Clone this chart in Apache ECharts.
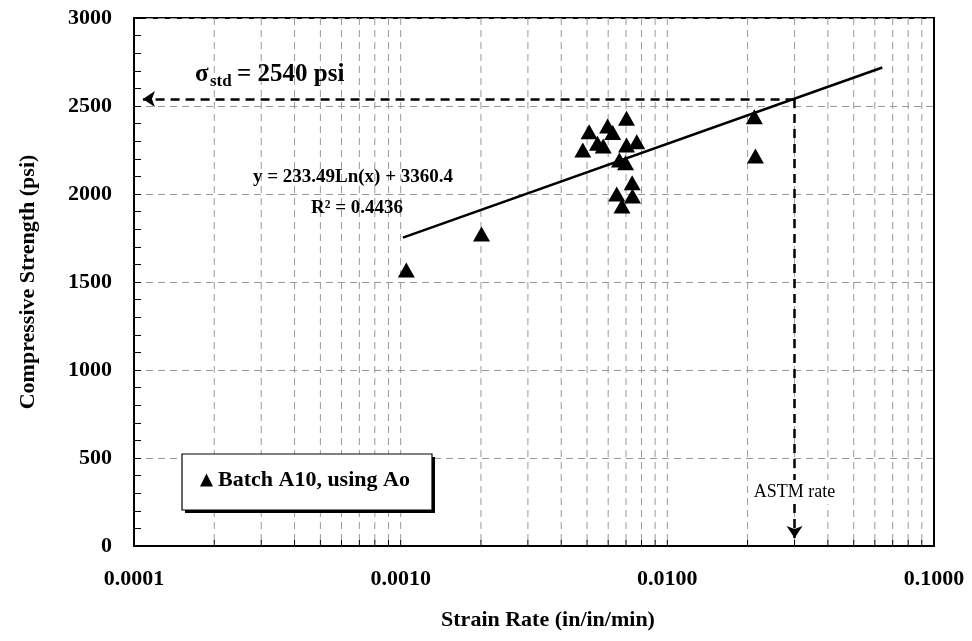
<!DOCTYPE html>
<html>
<head>
<meta charset="utf-8">
<script src="https://cdn.jsdelivr.net/npm/echarts@6/dist/echarts.min.js"></script>
<style>
  html, body { margin: 0; padding: 0; background: #fff; }
  #chart { width: 972px; height: 641px; }
</style>
</head>
<body>
<div id="chart"></div>
<script>
// Measured specimens: strain rate (in/in/min) and compressive strength (psi)
const strainRate = [0.00105, 0.00201, 0.00482, 0.00509, 0.00547, 0.00575, 0.00597, 0.00624,
                    0.00703, 0.00703, 0.00768, 0.00661, 0.00697, 0.00738, 0.00646, 0.00740,
                    0.00676, 0.0212, 0.0214];
const strength   = [1568, 1773, 2250, 2354, 2288, 2273, 2386, 2349,
                    2430, 2278, 2297, 2193, 2178, 2064, 2000, 1989,
                    1932, 2439, 2216];
const seriesName = 'Batch A10, using Ao';

// Logarithmic fit y = a·ln(x) + b and the x span it is drawn over
const fitSlope = 233.49;
const fitIntercept = 3360.4;
const fitRSquared = 0.4436;
const fitRange = [0.00102, 0.064];

const stdStrength = 2540;
const astmRate = 0.030;
const arrowEnds = { x: 0.000108, y: 45 };

// Axis ranges and tick labels
const xMin = 0.0001, xMax = 0.1;
const yMin = 0, yMax = 3000, yStep = 500;
const decades = [0.0001, 0.001, 0.01];
const decadeSteps = [1, 2, 3, 4, 5, 6, 7, 8, 9];
const xTickLabel = v => v.toFixed(4);
const yTickLabel = v => String(v);

const FONT = '"Liberation Serif", "Times New Roman", serif';
const GRID_GRAY = '#9a9a9a';

// vertical log-grid positions (every 1..9 × decade inside the plot)
const logGridValues = [];
decades.forEach(d => decadeSteps.forEach(m => {
  const v = +(m * d).toPrecision(6);
  if (v > xMin && v < xMax) logGridValues.push(v);
}));

const scatterData = strainRate.map((x, i) => [x, strength[i]]);
const fitAt = x => fitSlope * Math.log(x) + fitIntercept;
const fitData = fitRange.map(x => [x, fitAt(x)]);

const chart = echarts.init(document.getElementById('chart'), null, { renderer: 'canvas' });

// legend frame with a hard drop shadow
const legendBox = { x: 182, y: 454, w: 250, h: 56, shadow: 3 };

const option = {
  backgroundColor: '#fff',
  animation: false,
  textStyle: { fontFamily: FONT },
  grid: {
    left: 134, right: 38, top: 18, bottom: 95,
    show: true, borderColor: '#000', borderWidth: 2, backgroundColor: 'transparent'
  },
  xAxis: {
    type: 'log', logBase: 10, min: xMin, max: xMax,
    axisLine: { show: true, lineStyle: { color: '#000', width: 2 } },
    axisTick: { show: false },
    axisLabel: {
      color: '#000', fontFamily: FONT, fontWeight: 'bold', fontSize: 22, margin: 22,
      formatter: xTickLabel
    },
    splitLine: { show: false }
  },
  yAxis: {
    type: 'value', min: yMin, max: yMax, interval: yStep,
    name: 'Compressive Strength (psi)', nameLocation: 'middle', nameGap: 95,
    nameTextStyle: { color: '#000', fontFamily: FONT, fontWeight: 'bold', fontSize: 22 },
    axisLine: { show: true, lineStyle: { color: '#000', width: 2 } },
    axisTick: { show: true, inside: true, length: 7, lineStyle: { color: '#000', width: 1 } },
    minorTick: { show: true, splitNumber: 5, length: 7, lineStyle: { color: '#000', width: 1 } },
    axisLabel: {
      color: '#000', fontFamily: FONT, fontWeight: 'bold', fontSize: 22, margin: 22,
      formatter: yTickLabel
    },
    splitLine: { show: true, lineStyle: { color: GRID_GRAY, width: 1, type: [7, 5] } }
  },
  legend: {
    data: [{ name: seriesName, icon: 'triangle' }],
    left: legendBox.x + 1, top: legendBox.y + 1,
    orient: 'horizontal',
    padding: [14, 17, 14, 17],
    itemWidth: 13, itemHeight: 13,
    z: 12,
    textStyle: { color: '#000', fontFamily: FONT, fontWeight: 'bold', fontSize: 22 },
    selectedMode: false
  },
  series: [
    {
      // minor/major log grid and inward bottom ticks
      type: 'custom',
      silent: true,
      z: 1,
      data: logGridValues.map(v => [v, yMin]),
      renderItem: (params, api) => {
        const cs = params.coordSys;
        const x = api.coord([api.value(0), yMin])[0];
        const bottom = cs.y + cs.height;
        return {
          type: 'group',
          children: [
            { type: 'line', shape: { x1: x, y1: cs.y, x2: x, y2: bottom },
              style: { stroke: GRID_GRAY, lineWidth: 1, lineDash: [7, 5] } },
            { type: 'line', shape: { x1: x, y1: bottom, x2: x, y2: bottom - 6 },
              style: { stroke: '#000', lineWidth: 1 } }
          ]
        };
      }
    },
    {
      name: 'fit',
      type: 'line',
      z: 3,
      data: fitData,
      symbol: 'none',
      silent: true,
      lineStyle: { color: '#000', width: 2.6 },
      markLine: {
        silent: true,
        symbol: ['none', 'arrow'],
        symbolSize: 12,
        label: { show: false },
        lineStyle: { color: '#000', width: 2.5, type: [9, 6] },
        data: [
          [{ coord: [astmRate, stdStrength] }, { coord: [arrowEnds.x, stdStrength] }],
          [{ coord: [astmRate, stdStrength] }, { coord: [astmRate, arrowEnds.y] }]
        ]
      }
    },
    {
      name: seriesName,
      type: 'scatter',
      z: 4,
      data: scatterData,
      symbol: 'triangle',
      symbolSize: [17, 15],
      itemStyle: { color: '#000', opacity: 1 }
    }
  ]
};

chart.setOption(option);

// text annotations placed after layout so they can use axis positions
const astmPx = chart.convertToPixel({ xAxisIndex: 0, yAxisIndex: 0 }, [astmRate, 0]);
const txt = (text, x, y, size, extra) => ({
  type: 'text', x: x, y: y, z: 10, silent: true,
  style: Object.assign({
    text: text, fill: '#000', font: 'bold ' + size + 'px ' + FONT,
    align: 'left', verticalAlign: 'middle'
  }, extra || {})
});

chart.setOption({
  graphic: [
    txt('σ', 195, 75, 25),
    txt('std', 210, 82, 17),
    txt('= ' + stdStrength + ' psi', 237, 75, 25),
    txt('y = ' + fitSlope + 'Ln(x) + ' + fitIntercept, 353, 177, 19, { align: 'center' }),
    txt('R² = ' + fitRSquared, 357, 208, 19, { align: 'center' }),
    {
      type: 'text', x: astmPx[0], y: 492, z: 10, silent: true,
      style: {
        text: 'ASTM rate', fill: '#000', font: '18px ' + FONT,
        align: 'center', verticalAlign: 'middle',
        backgroundColor: '#fff', padding: [3, 2]
      }
    },
    txt('Strain Rate (in/in/min)', 548, 620, 22, { align: 'center' }),
    {
      type: 'rect', z: 10, silent: true,
      shape: { x: legendBox.x + legendBox.shadow, y: legendBox.y + legendBox.shadow,
               width: legendBox.w, height: legendBox.h },
      style: { fill: '#000' }
    },
    {
      type: 'rect', z: 11, silent: true,
      shape: { x: legendBox.x, y: legendBox.y, width: legendBox.w, height: legendBox.h },
      style: { fill: '#fff', stroke: '#000', lineWidth: 1.2 }
    }
  ]
});
</script>
</body>
</html>
